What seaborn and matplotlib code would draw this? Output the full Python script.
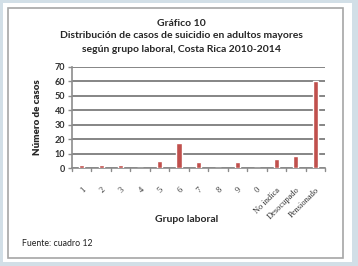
import matplotlib
matplotlib.use("Agg")
import matplotlib.pyplot as plt
import seaborn as sns
import pandas as pd
from matplotlib.patches import Rectangle

# Data
grupos = ["1", "2", "3", "4", "5", "6", "7", "8", "9", "0",
          "No indica", "Desocupado", "Pensionado"]
casos = [2, 2, 2, 0, 5, 17, 4, 0, 4, 0, 6, 8, 60]
yticks = [0, 10, 20, 30, 40, 50, 60, 70]

df = pd.DataFrame({"grupo": grupos, "casos": casos})

sns.set_theme(style="white")
plt.rcParams["font.family"] = ["Lato", "DejaVu Sans"]

W, H = 358, 266
fig = plt.figure(figsize=(W / 100, H / 100), dpi=100, facecolor="#d2dfe7")

# white card and grey frame
fig.patches.append(Rectangle((3 / W, 4 / H), 349 / W, 259 / H, transform=fig.transFigure,
                             facecolor="white", edgecolor="none", zorder=-2))
fig.patches.append(Rectangle((8 / W, 8 / H), 335 / W, 250 / H, transform=fig.transFigure,
                             facecolor="none", edgecolor="#a6a6a6", linewidth=1.2, zorder=-1))

ax = fig.add_axes([72 / W, 1 - 168 / H, 253 / W, 101 / H])
ax.set_zorder(2)
ax.set_facecolor("none")
sns.barplot(data=df, x="grupo", y="casos", color="#c0504d", saturation=1,
            width=0.27, ax=ax, zorder=3)

ax.set_ylim(0, 70)
ax.set_yticks(yticks)
ax.yaxis.grid(True, color="#858585", linewidth=1.4)
ax.set_axisbelow(True)
for s in ["top", "right"]:
    ax.spines[s].set_visible(False)
for s in ["left", "bottom"]:
    ax.spines[s].set_color("#8c8c8c")
    ax.spines[s].set_linewidth(1.2)

ax.tick_params(axis="y", labelsize=6.5, length=3, width=1, color="#8c8c8c", pad=2,
               direction="out", left=True)
for t in ax.get_yticklabels():
    t.set_fontweight("bold")
    t.set_color("#303030")

ax.set_xticks(range(len(grupos)))
ax.set_xticklabels(grupos, rotation=45, ha="right", rotation_mode="anchor",
                   fontsize=6, family="Liberation Serif", color="#303030")
ax.tick_params(axis="x", length=0, pad=13)
for i in range(len(grupos) + 1):
    ax.plot([i - 0.5, i - 0.5], [0, -1.8], color="#8c8c8c", lw=1, clip_on=False)
ax.set_xlim(-0.5, len(grupos) - 0.5)

ax.set_xlabel("")
ax.set_ylabel("Número de casos", fontsize=7, fontweight="heavy", labelpad=9)
fig.text(187 / W, 1 - 220 / H, "Grupo laboral", fontsize=7.5, fontweight="bold",
         ha="center", va="center")

fig.text(181 / W, 1 - 23 / H, "Gráfico 10", fontsize=7.5, fontweight="bold",
         ha="center", va="center")
fig.text(181 / W, 1 - 36 / H, "Distribución de casos de suicidio en adultos mayores",
         fontsize=7.5, fontweight="bold", ha="center", va="center")
fig.text(181 / W, 1 - 50 / H, "según grupo laboral, Costa Rica 2010-2014",
         fontsize=7.5, fontweight="bold", ha="center", va="center")
fig.text(22 / W, 1 - 243 / H, "Fuente: cuadro 12", fontsize=6.3,
         ha="left", va="center", color="#202020")

fig.savefig("out.png", dpi=100, facecolor=fig.get_facecolor())
